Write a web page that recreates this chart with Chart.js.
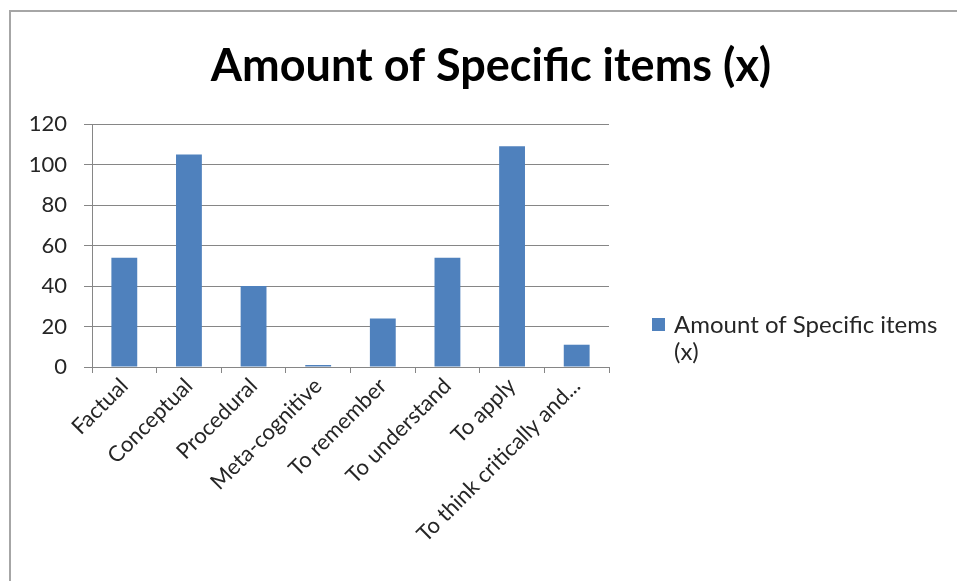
<!DOCTYPE html>
<html>
<head>
<meta charset="utf-8">
<script src="https://cdn.jsdelivr.net/npm/chart.js@4.4.0/dist/chart.umd.min.js"></script>
<style>
  html, body { margin: 0; padding: 0; background: #fff; }
</style>
</head>
<body>
<canvas id="chart" width="957" height="581"></canvas>
<script>
// data
const categories = [
  "Factual",
  "Conceptual",
  "Procedural",
  "Meta-cognitive",
  "To remember",
  "To understand",
  "To apply",
  "To think critically and...",
];
const specificItems = [54, 105, 40, 1, 24, 54, 109, 11];
const yTicks = [0, 20, 40, 60, 80, 100, 120];
const titleText = "Amount of Specific items (x)";
const seriesName = "Amount of Specific items (x)";
const legendLines = ["Amount of Specific items", "(x)"];

const barBlue = "#4F81BD";
const gridGrey = "#868686";
const textCol = "#262626";
const fontFam = "Lato, 'Open Sans', sans-serif";

// white page + the grey frame of the original chart object (right/bottom edges are cropped off)
const frame = {
  id: "frame",
  beforeDraw(chart) {
    const ctx = chart.ctx;
    ctx.save();
    ctx.fillStyle = "#fff";
    ctx.fillRect(0, 0, chart.width, chart.height);
    ctx.strokeStyle = "#a6a6a6";
    ctx.lineWidth = 2;
    ctx.beginPath();
    ctx.moveTo(10, chart.height);
    ctx.lineTo(10, 11);
    ctx.lineTo(chart.width, 11);
    ctx.stroke();
    ctx.restore();
  },
};

// legend drawn in the space kept free by the empty right-hand scale
const sideLegend = {
  id: "sideLegend",
  afterDraw(chart) {
    const ctx = chart.ctx;
    const space = chart.scales.legendSpace;
    const ds = chart.data.datasets[0];
    const x = space.left + 43;
    const y = chart.chartArea.bottom - 49;
    ctx.save();
    ctx.fillStyle = ds.backgroundColor;
    ctx.fillRect(x, y, 13, 13);
    ctx.font = "24px " + fontFam;
    ctx.fillStyle = textCol;
    ctx.textBaseline = "middle";
    legendLines.forEach((line, i) => {
      ctx.fillText(line, x + 22, y + 7 + i * 27);
    });
    ctx.restore();
  },
};

new Chart(document.getElementById("chart"), {
  type: "bar",
  data: {
    labels: categories,
    datasets: [
      {
        label: seriesName,
        data: specificItems,
        backgroundColor: barBlue,
        borderWidth: 0,
        categoryPercentage: 0.4,
        barPercentage: 1,
      },
    ],
  },
  options: {
    responsive: false,
    animation: false,
    devicePixelRatio: 1,
    // left padding also nudges the centred title to where it sits in the original
    layout: { padding: { left: 25, right: 0, top: 0, bottom: 0 } },
    plugins: {
      legend: { display: false },
      tooltip: { enabled: false },
      title: {
        display: true,
        text: titleText,
        color: "#000",
        font: { family: fontFam, size: 45, weight: "bold" },
        padding: { top: 39, bottom: 31 },
      },
    },
    scales: {
      x: {
        grid: {
          display: true,
          drawOnChartArea: false,
          drawTicks: true,
          tickLength: 6,
          color: gridGrey,
        },
        border: { display: true, color: gridGrey },
        ticks: {
          color: textCol,
          font: { family: fontFam, size: 22 },
          minRotation: 45,
          maxRotation: 45,
          autoSkip: false,
          padding: 0,
        },
        afterFit(scale) {
          scale.height = 214;
        },
      },
      y: {
        min: 0,
        max: 120,
        afterBuildTicks(scale) {
          scale.ticks = yTicks.map((v) => ({ value: v }));
        },
        grid: { color: gridGrey, tickLength: 8 },
        border: { display: true, color: gridGrey },
        ticks: {
          color: textCol,
          font: { family: fontFam, size: 22 },
          padding: 17,
        },
        afterFit(scale) {
          scale.width = 67;
        },
      },
      legendSpace: {
        type: "linear",
        position: "right",
        display: true,
        grid: { display: false },
        border: { display: false },
        ticks: { display: false },
        afterFit(scale) {
          scale.width = 348;
        },
      },
    },
  },
  plugins: [frame, sideLegend],
});
</script>
</body>
</html>
